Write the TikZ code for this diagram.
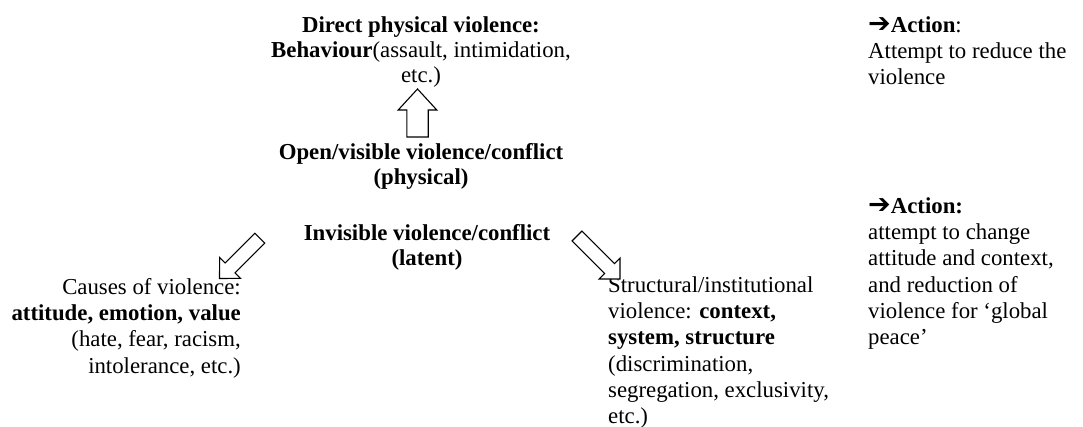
\documentclass[tikz,border=0pt]{standalone}
\usepackage{fontspec}
\setmainfont{Liberation Serif}
\newfontfamily\symfont{DejaVu Sans}
\newcommand{\actarrow}{{\symfont\fontsize{27}{26.3}\selectfont\char"2794}}
\tikzset{
  blk/.style={inner sep=0pt, font=\fontsize{22.8}{25}\selectfont, align=center, anchor=north},
  txt/.style={inner sep=0pt, font=\fontsize{22.8}{26.3}\selectfont, anchor=north west, align=left},
  txtr/.style={inner sep=0pt, font=\fontsize{22.8}{26.3}\selectfont, anchor=north east, align=right},
  barrow/.style={draw=black, line width=1.1pt, fill=white, line join=miter},
}
\begin{document}
\begin{tikzpicture}[x=1pt,y=-1pt]
\useasboundingbox (0,0) rectangle (1083,427);
% text blocks (north = first baseline - 18.41)
\node[blk] (direct) at (421,14.6) {\strut\textbf{Direct physical violence:}\\\textbf{Behaviour}(assault, intimidation,\\etc.)};
\node[blk] (open) at (421,141.6) {\strut\textbf{Open/visible violence/conflict}\\\textbf{(physical)}};
\node[blk] (invis) at (427,222.6) {\strut\textbf{Invisible violence/conflict}\\\textbf{(latent)}};
\node[txtr] (causes) at (241,275.6) {\strut Causes of violence:\\\textbf{attitude, emotion, value}\\(hate, fear, racism,\\intolerance, etc.)};
\node[txt] (struct) at (608,273.6) {\strut Structural/institutional\\violence: \textbf{context,}\\\textbf{system, structure}\\(discrimination,\\segregation, exclusivity,\\etc.)};
\node[txt] (act1) at (868,13.6) {\strut\actarrow\textbf{Action}:\\Attempt to reduce the\\violence};
\node[txt] (act2) at (868,194.6) {\strut\actarrow\textbf{Action:}\\attempt to change\\attitude and context,\\and reduction of\\violence for ‘global\\peace’};
% block arrows
\coordinate (upA) at (417.5,137);
\begin{scope}[shift={(upA)}, rotate=90]
  \draw[barrow] (0,-10.7) -- (27,-10.7) -- (27,-19.3) -- (48,0) -- (27,19.3) -- (27,10.7) -- (0,10.7) -- cycle;
\end{scope}
\coordinate (leftA) at (259.8,238.2);
\begin{scope}[shift={(leftA)}, rotate=225]
  \draw[barrow] (0,-7) -- (42,-7) -- (42,-14.8) -- (57,0) -- (42,14.8) -- (42,7) -- (0,7) -- cycle;
\end{scope}
\coordinate (rightA) at (577,236);
\begin{scope}[shift={(rightA)}, rotate=-45]
  \draw[barrow] (0,-7) -- (46,-7) -- (46,-14.8) -- (60.8,0) -- (46,14.8) -- (46,7) -- (0,7) -- cycle;
\end{scope}
\end{tikzpicture}
\end{document}
